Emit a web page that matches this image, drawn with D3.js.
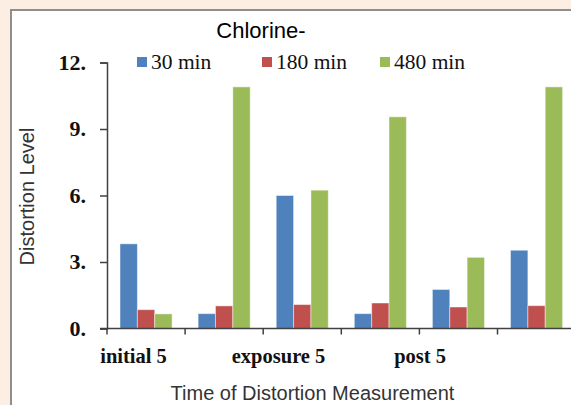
<!DOCTYPE html>
<html>
<head>
<meta charset="utf-8">
<script src="https://cdn.jsdelivr.net/npm/d3@7"></script>
<style>
  html, body { margin: 0; padding: 0; background: #fdeee3; overflow: hidden; }
  svg { display: block; }
</style>
</head>
<body>
<svg id="chart" width="571" height="405"></svg>
<script>
// ---- data ----
const categories = ["g1", "g2", "g3", "g4", "g5", "g6"];
const categoryLabels = ["initial 5", "", "exposure 5", "", "post 5", ""];
const seriesNames = ["30 min", "180 min", "480 min"];
const series30 = [3.82, 0.67, 6.0, 0.67, 1.76, 3.53];
const series180 = [0.85, 1.02, 1.08, 1.15, 0.97, 1.03];
const series480 = [0.66, 10.9, 6.24, 9.55, 3.21, 10.9];
const yTickValues = [0, 3, 6, 9, 12];
const yTickLabels = ["0.", "3.", "6.", "9.", "12."];
const titleText = "Chlorine-";
const xTitle = "Time of Distortion Measurement";
const yTitle = "Distortion Level";

// ---- layout ----
const colors = ["#4f81bd", "#c0504d", "#9bbb59"];
const plotLeft = 107, groupW = 78.1;
const plotRight = plotLeft + groupW * categories.length;
const yTop = 62.5, yBottom = 328.5;
const labelShift = [-12.5, 0, -23.7, 0, -38.4, 0];

const svg = d3.select("#chart");

// chart area
svg.append("rect").attr("x", 11).attr("y", 10).attr("width", 600).attr("height", 420)
  .attr("fill", "#ffffff").attr("stroke", "#8e8e8e").attr("stroke-width", 2);

const x0 = d3.scaleBand().domain(categories).range([plotLeft, plotRight]).paddingInner(0).paddingOuter(0);
const x1 = d3.scaleBand().domain(seriesNames)
  .range([groupW / 6, groupW - groupW / 6]).padding(0);
const y = d3.scaleLinear().domain([0, 12]).range([yBottom, yTop]);

const allSeries = [series30, series180, series480];

// bars
const groups = svg.append("g").selectAll("g").data(categories).join("g")
  .attr("transform", d => `translate(${x0(d)},0)`);
groups.selectAll("rect")
  .data((d, i) => seriesNames.map((s, j) => ({ s, j, v: allSeries[j][i] })))
  .join("rect")
  .attr("x", d => x1(d.s))
  .attr("y", d => y(d.v))
  .attr("width", x1.bandwidth())
  .attr("height", d => y(0) - y(d.v))
  .attr("fill", d => colors[d.j])
  .attr("stroke", "rgba(255,255,255,0.45)")
  .attr("stroke-width", 1);

// y axis
const yAxis = d3.axisLeft(y).tickValues(yTickValues)
  .tickFormat((d, i) => yTickLabels[i]).tickSize(7).tickPadding(14);
const yg = svg.append("g").attr("transform", `translate(${plotLeft},0)`).call(yAxis);
yg.select(".domain").attr("stroke", "#404040").attr("stroke-width", 1.5);
yg.selectAll(".tick line").attr("stroke", "#404040").attr("stroke-width", 1.5);
yg.selectAll(".tick text")
  .attr("font-family", "'Liberation Serif', 'Times New Roman', serif")
  .attr("font-size", 22).attr("font-weight", "bold").attr("fill", "#111")
  .attr("dy", "0.3em");

// x axis line and ticks at group boundaries
const xBoundaries = categories.map(c => x0(c)).concat([plotRight]);
svg.append("line").attr("x1", plotLeft - 7).attr("x2", plotRight)
  .attr("y1", y(0)).attr("y2", y(0)).attr("stroke", "#404040").attr("stroke-width", 1.5);
svg.append("g").selectAll("line").data(xBoundaries).join("line")
  .attr("x1", d => d).attr("x2", d => d)
  .attr("y1", y(0)).attr("y2", y(0) + 6)
  .attr("stroke", "#404040").attr("stroke-width", 1.5);

// x category labels
svg.append("g").selectAll("text").data(categories).join("text")
  .attr("x", (d, i) => x0(d) + groupW / 2 + labelShift[i])
  .attr("y", 363)
  .attr("text-anchor", "middle")
  .attr("font-family", "'Liberation Serif', 'Times New Roman', serif")
  .attr("font-size", 20.5).attr("font-weight", "bold").attr("fill", "#111")
  .text((d, i) => categoryLabels[i]);

// title
svg.append("text").attr("x", 261).attr("y", 38).attr("text-anchor", "middle")
  .attr("font-family", "'Liberation Sans', Arial, sans-serif").attr("font-size", 22)
  .attr("fill", "#000").text(titleText);

// axis titles
svg.append("text").attr("x", 312.5).attr("y", 400).attr("text-anchor", "middle")
  .attr("font-family", "'Liberation Sans', Arial, sans-serif").attr("font-size", 20)
  .attr("fill", "#333").text(xTitle);
svg.append("text").attr("transform", "translate(34,196.5) rotate(-90)")
  .attr("text-anchor", "middle")
  .attr("font-family", "'Liberation Sans', Arial, sans-serif").attr("font-size", 20)
  .attr("fill", "#333").text(yTitle);

// legend
const legendX = [137, 262, 380];
const lg = svg.append("g").selectAll("g").data(seriesNames).join("g")
  .attr("transform", (d, i) => `translate(${legendX[i]},0)`);
lg.append("rect").attr("x", 0).attr("y", 57).attr("width", 10).attr("height", 10)
  .attr("fill", (d, i) => colors[i]);
lg.append("text").attr("x", 14).attr("y", 68.5)
  .attr("font-family", "'Liberation Serif', 'Times New Roman', serif")
  .attr("font-size", 21.5).attr("fill", "#111").text(d => d);
</script>
</body>
</html>
